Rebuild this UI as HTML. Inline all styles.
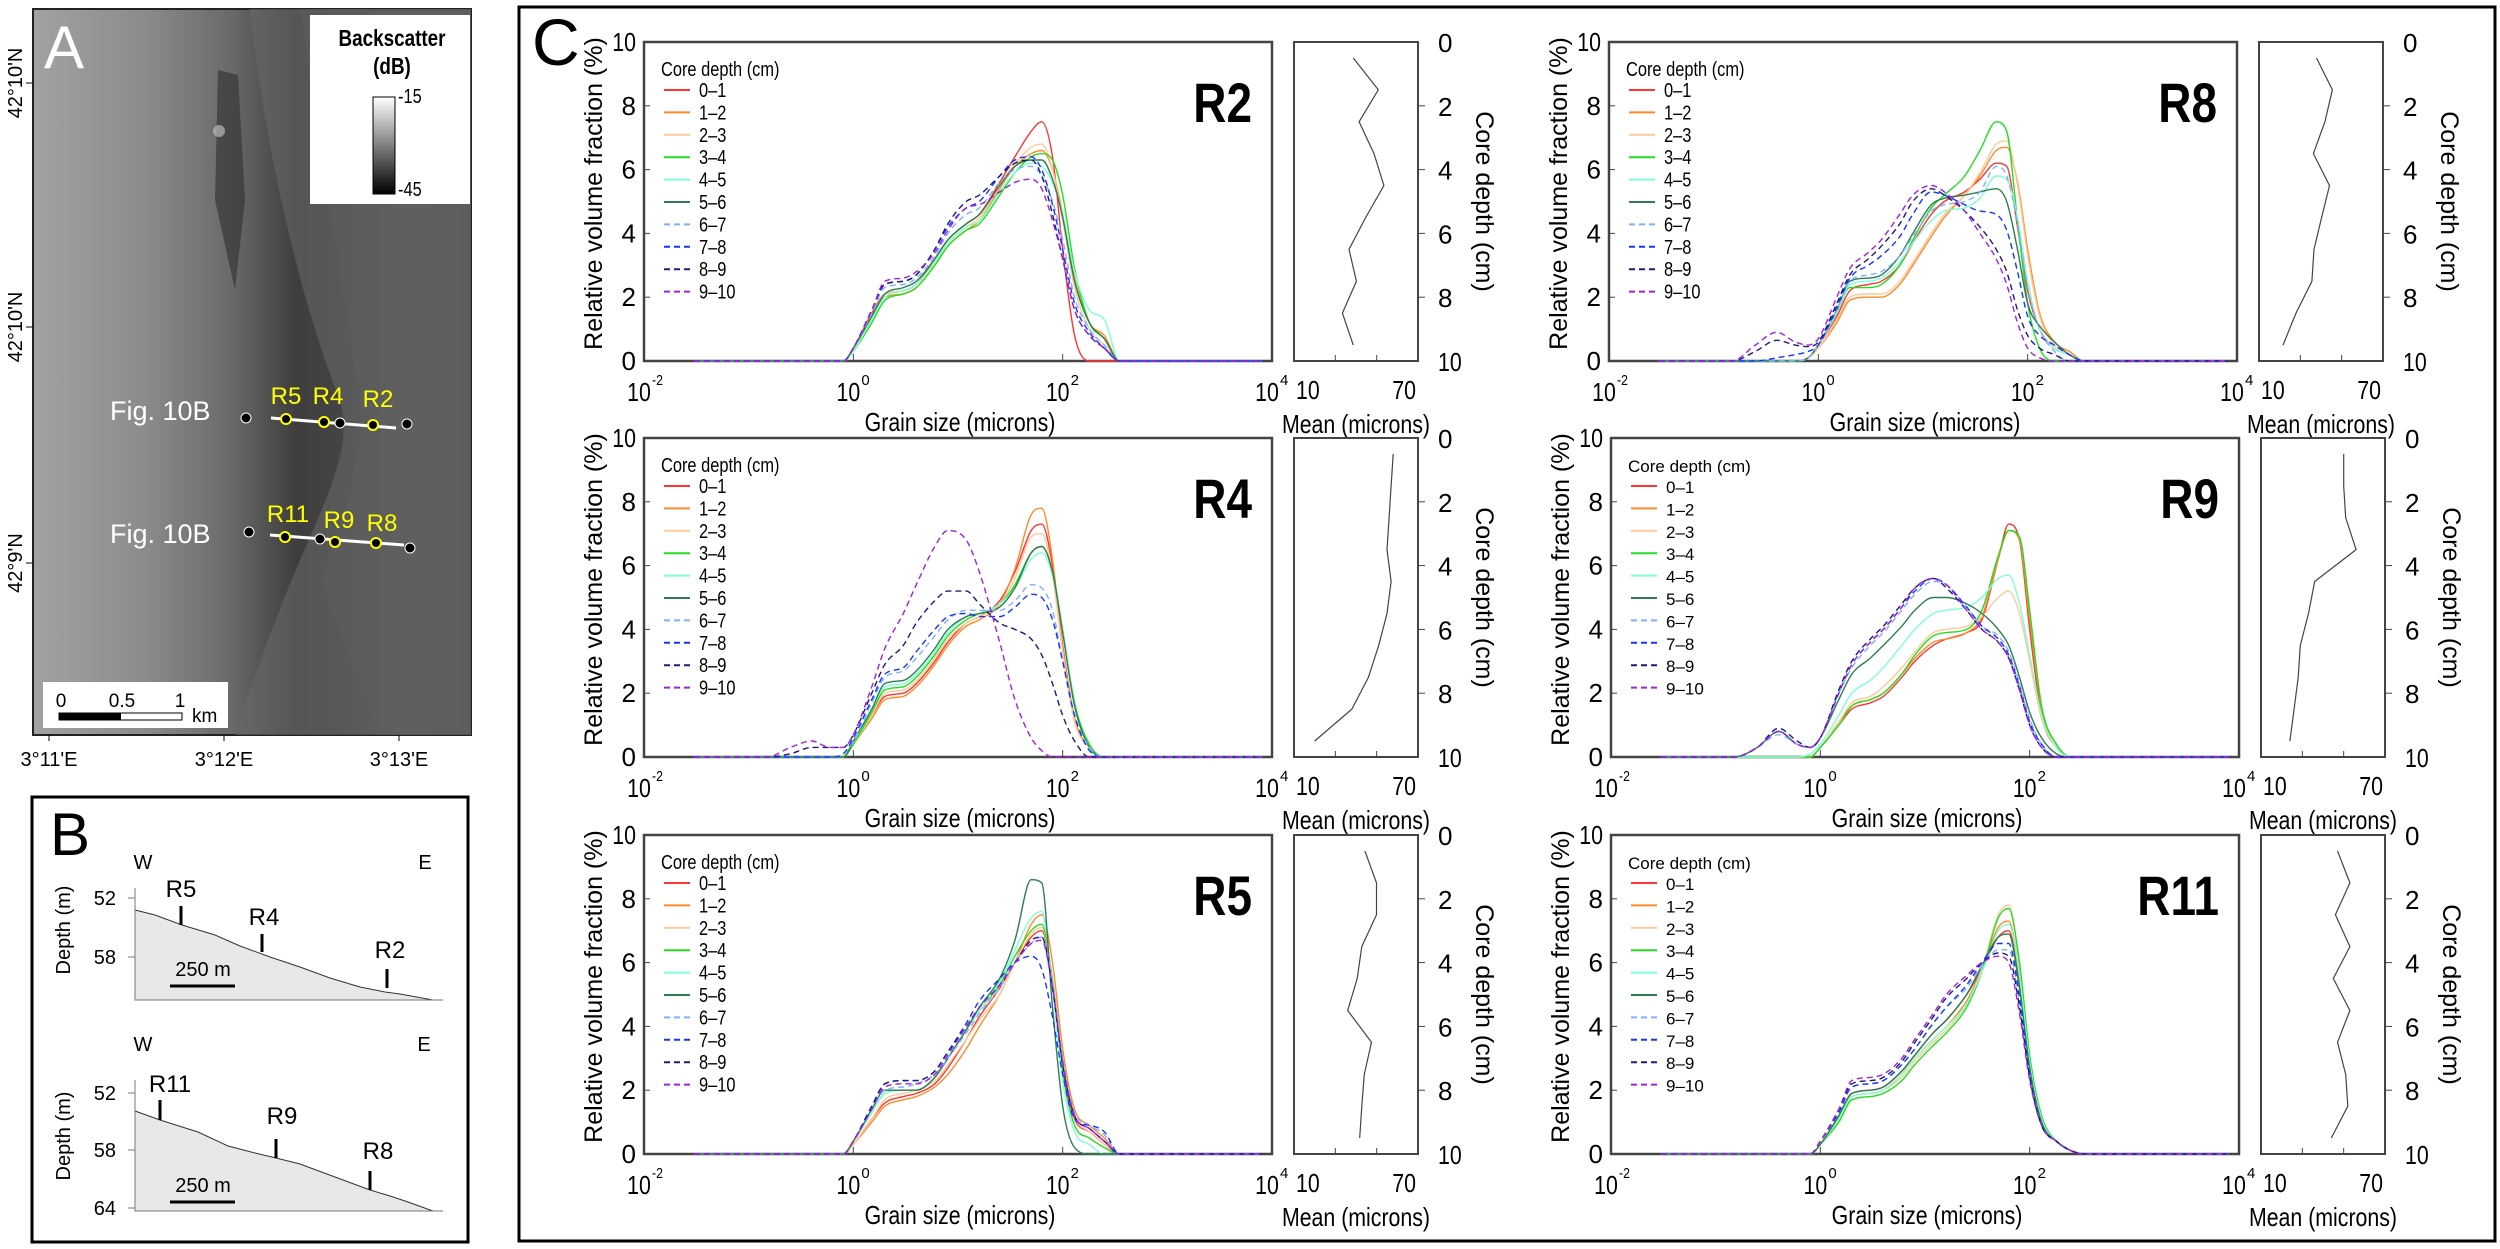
<!DOCTYPE html>
<html><head><meta charset="utf-8">
<style>
html,body{margin:0;padding:0;background:#fff;}
svg{display:block;font-family:"Liberation Sans",sans-serif;}
.nar{font-family:"Liberation Sans Narrow","Liberation Sans",sans-serif;}
</style></head>
<body>
<svg id="fig" width="2500" height="1249" viewBox="0 0 2500 1249" xmlns="http://www.w3.org/2000/svg">
<defs>
<linearGradient id="mapgrad" x1="0" x2="1" y1="0" y2="0">
<stop offset="0" stop-color="#a2a2a2"/><stop offset="0.25" stop-color="#8c8c8c"/>
<stop offset="0.45" stop-color="#6a6a6a"/><stop offset="0.6" stop-color="#3e3e3e"/>
<stop offset="0.72" stop-color="#454545"/><stop offset="0.85" stop-color="#585858"/>
<stop offset="1" stop-color="#4e4e4e"/></linearGradient>
<linearGradient id="cbar" x1="0" x2="0" y1="0" y2="1"><stop offset="0" stop-color="#fff"/><stop offset="1" stop-color="#000"/></linearGradient>
</defs>

<g>
<rect x="33" y="9" width="438" height="726" fill="url(#mapgrad)" stroke="#222" stroke-width="2"/>
<path d="M250,9 C265,150 300,300 340,400 C350,440 340,470 300,560 C270,630 250,690 235,735 L471,735 L471,9 Z" fill="#6a6a6a" opacity="0.55"/>
<path d="M300,9 C320,150 345,300 360,400 C365,450 350,500 320,580 L380,735 L471,735 L471,9 Z" fill="#5e5e5e" opacity="0.5"/>
<path d="M218,70 L238,75 L245,200 L235,290 L215,200 Z" fill="#2e2e2e" opacity="0.6"/>
<circle cx="219" cy="131" r="6" fill="#bbb" opacity="0.7"/>
<text x="44" y="68" font-size="60" fill="#fff">A</text>
<g>
<rect x="310" y="15" width="160" height="189" fill="#fff"/>
<text x="392" y="46" font-size="23" font-weight="bold" text-anchor="middle" class="nar">Backscatter</text>
<text x="392" y="74" font-size="23" font-weight="bold" text-anchor="middle" class="nar">(dB)</text>
<rect x="373" y="97" width="22" height="97" fill="url(#cbar)" stroke="#000" stroke-width="1"/>
<text x="398" y="103" font-size="20" class="nar">-15</text>
<text x="398" y="196" font-size="20" class="nar">-45</text>
</g>
<g>
<text x="110" y="420" font-size="27" fill="#fff">Fig. 10B</text>
<line x1="271" y1="418" x2="396" y2="428" stroke="#fff" stroke-width="3"/>
<circle cx="246" cy="418" r="5" fill="#000" stroke="#fff"/><circle cx="340" cy="423" r="5" fill="#000" stroke="#fff"/><circle cx="407" cy="424" r="5" fill="#000" stroke="#fff"/>
<circle cx="286" cy="419" r="5" fill="#000" stroke="#ff0" stroke-width="2"/><circle cx="324" cy="422" r="5" fill="#000" stroke="#ff0" stroke-width="2"/><circle cx="373" cy="425" r="5" fill="#000" stroke="#ff0" stroke-width="2"/>
<text x="286" y="404" font-size="24" fill="#ff0" text-anchor="middle">R5</text>
<text x="328" y="404" font-size="24" fill="#ff0" text-anchor="middle">R4</text>
<text x="378" y="407" font-size="24" fill="#ff0" text-anchor="middle">R2</text>
</g>
<g>
<text x="110" y="543" font-size="27" fill="#fff">Fig. 10B</text>
<line x1="270" y1="535" x2="404" y2="545" stroke="#fff" stroke-width="3"/>
<circle cx="249" cy="532" r="5" fill="#000" stroke="#fff"/><circle cx="320" cy="539" r="5" fill="#000" stroke="#fff"/><circle cx="410" cy="548" r="5" fill="#000" stroke="#fff"/>
<circle cx="285" cy="537" r="5" fill="#000" stroke="#ff0" stroke-width="2"/><circle cx="335" cy="542" r="5" fill="#000" stroke="#ff0" stroke-width="2"/><circle cx="376" cy="543" r="5" fill="#000" stroke="#ff0" stroke-width="2"/>
<text x="288" y="522" font-size="24" fill="#ff0" text-anchor="middle">R11</text>
<text x="339" y="528" font-size="24" fill="#ff0" text-anchor="middle">R9</text>
<text x="382" y="531" font-size="24" fill="#ff0" text-anchor="middle">R8</text>
</g>
<g>
<rect x="43" y="682" width="185" height="46" fill="#fff"/>
<text x="61" y="707" font-size="19" text-anchor="middle">0</text>
<text x="122" y="707" font-size="19" text-anchor="middle">0.5</text>
<text x="180" y="707" font-size="19" text-anchor="middle">1</text>
<text x="192" y="722" font-size="19">km</text>
<rect x="59" y="713" width="123" height="7" fill="#fff" stroke="#000" stroke-width="1"/>
<rect x="59" y="713" width="62" height="7" fill="#000"/>
</g>
<g font-size="20">
<line x1="26" y1="83" x2="33" y2="83" stroke="#000"/><line x1="26" y1="327" x2="33" y2="327" stroke="#000"/><line x1="26" y1="563" x2="33" y2="563" stroke="#000"/>
<text transform="translate(22,83) rotate(-90)" text-anchor="middle">42°10'N</text>
<text transform="translate(22,327) rotate(-90)" text-anchor="middle">42°10'N</text>
<text transform="translate(22,563) rotate(-90)" text-anchor="middle">42°9'N</text>
<line x1="49" y1="735" x2="49" y2="741" stroke="#000"/><line x1="224" y1="735" x2="224" y2="741" stroke="#000"/><line x1="399" y1="735" x2="399" y2="741" stroke="#000"/>
<text x="49" y="766" text-anchor="middle">3°11'E</text>
<text x="224" y="766" text-anchor="middle">3°12'E</text>
<text x="399" y="766" text-anchor="middle">3°13'E</text>
</g>
</g>

<g>
<rect x="32" y="797" width="436" height="445" fill="none" stroke="#000" stroke-width="3"/>
<text x="50" y="855" font-size="60">B</text>
<g font-size="20">
<text x="143" y="869" text-anchor="middle">W</text><text x="425" y="869" text-anchor="middle">E</text>
<path d="M135,910 L155,915 L182,925 L215,935 L240,946 L270,957 L300,967 L330,978 L360,987 L385,992 L400,994 L433,1000 L135,1000 Z" fill="#e8e8e8" stroke="none"/>
<polyline points="135,910 155,915 182,925 215,935 240,946 270,957 300,967 330,978 360,987 385,992 400,994 433,1000" fill="none" stroke="#333" stroke-width="1"/>
<polyline points="135,888 135,1000 443,1000" fill="none" stroke="#777" stroke-width="1"/>
<line x1="128" y1="898" x2="135" y2="898" stroke="#777"/><line x1="128" y1="957" x2="135" y2="957" stroke="#777"/>
<text x="116" y="905" text-anchor="end">52</text><text x="116" y="964" text-anchor="end">58</text>
<text transform="translate(70,930) rotate(-90)" text-anchor="middle">Depth (m)</text>
<line x1="181" y1="906" x2="181" y2="925" stroke="#000" stroke-width="3"/><text x="181" y="897" font-size="24" text-anchor="middle">R5</text>
<line x1="262" y1="934" x2="262" y2="952" stroke="#000" stroke-width="3"/><text x="264" y="925" font-size="24" text-anchor="middle">R4</text>
<line x1="387" y1="969" x2="387" y2="988" stroke="#000" stroke-width="3"/><text x="390" y="958" font-size="24" text-anchor="middle">R2</text>
<text x="203" y="976" text-anchor="middle">250 m</text>
<line x1="170" y1="986" x2="235" y2="986" stroke="#000" stroke-width="3"/>
</g>
<g font-size="20">
<text x="143" y="1051" text-anchor="middle">W</text><text x="424" y="1051" text-anchor="middle">E</text>
<path d="M135,1111 L160,1120 L198,1132 L228,1146 L255,1153 L276,1158 L300,1164 L335,1177 L370,1190 L390,1196 L405,1201 L433,1211 L135,1211 Z" fill="#e8e8e8"/>
<polyline points="135,1111 160,1120 198,1132 228,1146 255,1153 276,1158 300,1164 335,1177 370,1190 390,1196 405,1201 433,1211" fill="none" stroke="#333" stroke-width="1"/>
<polyline points="135,1080 135,1211 443,1211" fill="none" stroke="#777" stroke-width="1"/>
<line x1="128" y1="1093" x2="135" y2="1093" stroke="#777"/><line x1="128" y1="1150" x2="135" y2="1150" stroke="#777"/><line x1="128" y1="1208" x2="135" y2="1208" stroke="#777"/>
<text x="116" y="1100" text-anchor="end">52</text><text x="116" y="1157" text-anchor="end">58</text><text x="116" y="1215" text-anchor="end">64</text>
<text transform="translate(70,1136) rotate(-90)" text-anchor="middle">Depth (m)</text>
<line x1="160" y1="1100" x2="160" y2="1120" stroke="#000" stroke-width="3"/><text x="170" y="1092" font-size="24" text-anchor="middle">R11</text>
<line x1="276" y1="1139" x2="276" y2="1158" stroke="#000" stroke-width="3"/><text x="282" y="1124" font-size="24" text-anchor="middle">R9</text>
<line x1="370" y1="1171" x2="370" y2="1190" stroke="#000" stroke-width="3"/><text x="378" y="1159" font-size="24" text-anchor="middle">R8</text>
<text x="203" y="1192" text-anchor="middle">250 m</text>
<line x1="170" y1="1202" x2="235" y2="1202" stroke="#000" stroke-width="3"/>
</g>
</g>

<g>
<rect x="519" y="7" width="1976" height="1234" fill="none" stroke="#000" stroke-width="3"/>
<text x="532" y="65" font-size="66">C</text>
<g id="charts"></g>
</g>
</svg>
<script>
const grainSizes = [0.03,0.15,0.25,0.4,0.6,0.8,1,1.5,2,3,4,6,8,12,16,25,35,50,63,80,100,130,180,250,350,8000];
const depthLabels = ["0\u20131","1\u20132","2\u20133","3\u20134","4\u20135","5\u20136","6\u20137","7\u20138","8\u20139","9\u201310"];
const meanDepths = [0.5,1.5,2.5,3.5,4.5,5.5,6.5,7.5,8.5,9.5];
const yTicks = [0,2,4,6,8,10];
const depthTicks = [0,2,4,6,8,10];
const xTickExp = [-2,0,2,4];

const r2Series = [
[0,0,0,0,0,0,0.4,1.5,2.1,2.2,2.4,3.2,3.8,4.3,4.6,5.6,6.4,7.2,7.5,6.4,3.5,0.8,0,0,0,0],
[0,0,0,0,0,0,0.3,1.3,2.0,2.1,2.3,3.0,3.6,4.1,4.4,5.4,6.1,6.5,6.6,6.0,4.6,2.6,1.2,0.8,0,0],
[0,0,0,0,0,0,0.3,1.4,2.1,2.2,2.4,3.1,3.7,4.2,4.5,5.5,6.2,6.7,6.8,6.0,4.4,2.3,1.0,0.5,0,0],
[0,0,0,0,0,0,0.3,1.2,1.9,2.1,2.3,3.0,3.6,4.1,4.3,5.2,5.9,6.4,6.5,6.3,5.2,2.9,1.2,0.7,0,0],
[0,0,0,0,0,0,0.3,1.3,2.0,2.2,2.4,3.1,3.7,4.2,4.4,5.3,5.9,6.2,6.1,5.6,4.6,2.8,1.6,1.3,0,0],
[0,0,0,0,0,0,0.4,1.4,2.1,2.3,2.5,3.2,3.8,4.3,4.6,5.5,6.1,6.3,6.3,5.7,4.5,2.5,1.2,0.7,0,0],
[0,0,0,0,0,0,0.4,1.5,2.3,2.4,2.6,3.3,4.0,4.6,4.8,5.6,6.0,6.1,5.8,5.0,3.8,2.0,1.0,0.5,0,0],
[0,0,0,0,0,0,0.4,1.6,2.4,2.5,2.7,3.5,4.2,4.8,5.0,5.8,6.3,6.4,6.0,4.9,3.5,1.8,0.9,0.4,0,0],
[0,0,0,0,0,0,0.4,1.6,2.4,2.5,2.7,3.5,4.3,5.0,5.2,5.8,6.2,6.3,5.8,4.6,3.2,1.6,0.8,0.4,0,0],
[0,0,0,0,0,0,0.4,1.6,2.5,2.6,2.8,3.4,4.1,4.8,4.9,5.3,5.6,5.7,5.4,4.4,3.2,1.6,0.8,0.4,0,0]];
const r2Mean = [38.7,50.8,41.5,48.7,53.5,44.7,36.6,40.2,33.4,38.7];

const r8Series = [
[0,0,0,0,0,0.1,0.5,1.4,2.2,2.4,2.5,3.0,3.7,4.6,5.0,5.3,5.7,6.2,6.1,4.2,2.2,1.0,0.4,0.2,0,0],
[0,0,0,0,0,0.1,0.4,1.2,1.9,2.0,2.0,2.4,3.0,3.9,4.5,5.2,5.8,6.6,6.7,5.6,3.5,1.5,0.6,0.3,0,0],
[0,0,0,0,0,0.1,0.4,1.3,2.0,2.1,2.1,2.5,3.1,4.0,4.6,5.2,5.9,6.8,6.9,5.5,3.3,1.4,0.5,0.2,0,0],
[0,0,0,0,0,0.1,0.5,1.5,2.3,2.3,2.4,3.0,3.8,4.8,5.2,5.8,6.6,7.5,7.2,4.4,1.8,0.4,0,0,0,0],
[0,0,0,0,0,0.1,0.5,1.5,2.4,2.5,2.6,3.1,3.7,4.4,4.7,4.8,5.1,5.8,5.7,4.5,2.5,1.0,0.4,0.2,0,0],
[0,0,0,0,0,0.1,0.5,1.6,2.5,2.6,2.7,3.3,4.0,4.9,5.1,5.2,5.3,5.4,5.0,3.5,1.8,1.1,0.6,0.2,0,0],
[0,0,0,0,0,0.1,0.5,1.6,2.5,2.7,2.8,3.3,3.9,4.7,4.9,5.0,5.3,6.1,5.8,4.3,2.3,1.0,0.3,0,0,0],
[0,0,0,0.1,0.2,0.3,0.5,1.7,2.6,3.0,3.3,3.9,4.6,5.3,5.2,4.9,4.7,4.6,4.1,2.8,1.4,0.8,0.5,0.2,0,0],
[0,0,0.3,0.65,0.5,0.45,0.6,1.8,2.7,3.2,3.6,4.3,5.0,5.4,5.2,4.7,4.2,3.5,2.8,1.6,0.8,0.4,0.2,0,0,0],
[0,0,0.5,0.9,0.6,0.5,0.7,2.0,2.9,3.4,3.8,4.6,5.2,5.5,5.3,4.7,4.0,3.2,2.4,1.2,0.4,0.1,0,0,0,0]];
const r8Mean = [37.8,45.5,41.9,36.3,44.1,40.3,36.6,35.6,27.9,21.6];

const r4Series = [
[0,0,0,0,0,0,0.4,1.3,1.9,2.0,2.3,3.0,3.6,4.2,4.4,4.9,5.8,7.1,7.3,6.0,3.5,1.2,0.3,0,0,0],
[0,0,0,0,0,0,0.4,1.2,1.8,1.9,2.2,2.9,3.5,4.1,4.3,4.8,5.9,7.6,7.8,6.2,3.4,1.2,0.3,0,0,0],
[0,0,0,0,0,0,0.4,1.3,2.0,2.1,2.4,3.1,3.7,4.2,4.4,4.8,5.6,6.9,7.0,5.7,3.3,1.1,0.3,0,0,0],
[0,0,0,0,0,0,0.4,1.4,2.1,2.2,2.5,3.2,3.8,4.3,4.5,4.8,5.4,6.4,6.6,5.8,4.0,1.7,0.4,0,0,0],
[0,0,0,0,0,0,0.5,1.5,2.2,2.3,2.6,3.3,3.9,4.4,4.5,4.8,5.3,6.2,6.4,5.7,4.0,1.6,0.3,0,0,0],
[0,0,0,0,0,0,0.5,1.5,2.3,2.4,2.7,3.4,4.0,4.4,4.5,4.7,5.3,6.4,6.6,5.8,3.9,1.6,0.3,0,0,0],
[0,0,0,0,0,0.1,0.5,1.7,2.5,2.7,3.1,3.8,4.3,4.6,4.6,4.6,4.9,5.4,5.3,4.6,3.0,1.3,0.3,0,0,0],
[0,0,0,0,0,0.1,0.6,1.8,2.6,2.8,3.3,4.0,4.4,4.5,4.4,4.4,4.7,5.1,5.0,4.3,3.0,1.3,0.2,0,0,0],
[0,0,0.1,0.3,0.3,0.3,0.7,2.0,2.9,3.5,4.2,4.9,5.2,5.2,4.8,4.2,4.0,3.7,3.2,2.3,1.3,0.5,0,0,0,0],
[0,0,0.3,0.5,0.3,0.3,0.7,2.2,3.4,4.5,5.4,6.6,7.1,6.8,5.8,3.6,1.8,0.6,0.2,0,0,0,0,0,0,0]];
const r4Mean = [58,57,56,55,57,55,51,46,38,20];

const r9Series = [
[0,0,0,0,0,0,0.3,1.0,1.5,1.7,1.9,2.5,3.0,3.5,3.7,3.9,4.3,6.2,7.3,6.8,4.0,1.3,0.3,0,0,0],
[0,0,0,0,0,0,0.3,1.1,1.6,1.8,2.0,2.6,3.1,3.6,3.7,3.9,4.4,6.2,7.1,6.8,4.3,1.5,0.4,0,0,0],
[0,0,0,0,0,0,0.3,1.1,1.7,1.9,2.2,2.8,3.3,3.9,4.0,4.1,4.4,5.0,5.2,4.5,3.0,1.2,0.3,0,0,0],
[0,0,0,0,0,0,0.3,1.0,1.6,1.8,2.0,2.6,3.2,3.8,3.9,4.0,4.6,6.3,7.1,6.9,4.6,1.6,0.4,0,0,0],
[0,0,0,0,0,0.1,0.4,1.3,2.0,2.4,2.8,3.5,4.0,4.5,4.6,4.7,5.0,5.6,5.7,4.8,3.2,1.3,0.3,0,0,0],
[0,0,0.3,0.8,0.4,0.3,0.6,1.8,2.6,3.1,3.5,4.1,4.6,5.0,5.0,4.8,4.5,4.0,3.5,2.5,1.4,0.6,0.1,0,0,0],
[0,0,0.3,0.7,0.4,0.3,0.6,2.0,2.8,3.5,3.9,4.6,5.1,5.5,5.4,4.7,4.1,3.8,3.3,2.3,1.2,0.4,0,0,0,0],
[0,0,0.3,0.8,0.4,0.3,0.6,2.0,2.9,3.6,4.0,4.7,5.2,5.6,5.4,4.7,4.1,3.7,3.2,2.2,1.1,0.4,0,0,0,0],
[0,0,0.3,0.9,0.5,0.3,0.6,2.1,3.0,3.7,4.1,4.8,5.3,5.6,5.3,4.6,4.0,3.6,3.1,2.1,1.0,0.3,0,0,0,0],
[0,0,0.3,0.8,0.4,0.3,0.6,2.0,2.9,3.6,4.0,4.7,5.3,5.6,5.4,4.6,4.0,3.6,3.1,2.1,1.0,0.3,0,0,0,0]];
const r9Mean = [50,50,51,56,36,33,29,28,26,24];

const r5Series = [
[0,0,0,0,0,0,0.3,1.1,1.6,1.8,1.9,2.2,2.7,3.6,4.3,5.2,6.0,6.8,7.0,5.4,2.8,1.1,0.7,0.3,0,0],
[0,0,0,0,0,0,0.3,1.0,1.5,1.7,1.8,2.1,2.5,3.3,4.0,5.0,6.0,7.2,7.5,6.0,3.3,1.4,0.9,0.5,0,0],
[0,0,0,0,0,0,0.3,1.1,1.7,1.9,2.0,2.3,2.8,3.6,4.2,5.0,6.0,6.9,7.1,5.5,3.0,1.2,0.7,0.3,0,0],
[0,0,0,0,0,0,0.4,1.3,1.9,2.0,2.0,2.4,3.0,3.9,4.5,5.3,6.2,7.0,7.2,5.4,2.6,0.9,0.5,0.2,0,0],
[0,0,0,0,0,0,0.4,1.3,1.9,2.0,2.0,2.4,3.0,3.9,4.5,5.4,6.4,7.4,7.6,5.2,2.3,0.7,0.3,0,0,0],
[0,0,0,0,0,0,0.4,1.4,2.0,2.0,2.0,2.4,3.0,3.9,4.6,5.5,6.7,8.6,8.5,4.6,1.5,0.2,0,0,0,0],
[0,0,0,0,0,0,0.4,1.4,2.0,2.1,2.2,2.5,3.0,3.8,4.4,5.2,6.0,6.6,6.8,5.4,3.0,1.3,0.9,0.6,0,0],
[0,0,0,0,0,0,0.4,1.5,2.2,2.3,2.3,2.6,3.2,4.1,4.8,5.5,6.0,6.2,5.8,4.3,2.5,1.1,0.9,0.7,0,0],
[0,0,0,0,0,0,0.4,1.5,2.2,2.3,2.3,2.6,3.2,4.0,4.6,5.3,6.0,6.7,6.8,5.2,2.8,1.2,0.8,0.4,0,0],
[0,0,0,0,0,0,0.4,1.4,2.1,2.2,2.2,2.5,3.1,4.0,4.6,5.3,6.0,6.6,6.7,5.2,2.9,1.2,0.8,0.4,0,0]];
const r5Mean = [44.3,49.9,49.9,42.8,40.6,36.0,47.5,44.0,42.8,41.8];

const r11Series = [
[0,0,0,0,0,0,0.3,1.2,1.9,2.0,2.1,2.6,3.1,3.8,4.2,5.0,5.8,6.8,7.0,5.3,2.7,1.0,0.4,0.1,0,0],
[0,0,0,0,0,0,0.3,1.1,1.8,1.9,2.0,2.5,3.0,3.6,4.0,4.8,5.8,7.1,7.3,5.6,2.9,1.1,0.4,0.1,0,0],
[0,0,0,0,0,0,0.3,1.1,1.8,1.9,2.0,2.4,2.9,3.5,3.9,4.7,5.8,7.5,7.8,5.9,3.0,1.1,0.4,0.1,0,0],
[0,0,0,0,0,0,0.3,1.0,1.7,1.8,1.9,2.3,2.8,3.4,3.8,4.6,5.7,7.4,7.7,6.0,3.1,1.2,0.4,0.1,0,0],
[0,0,0,0,0,0,0.3,1.1,1.8,1.9,2.0,2.5,3.0,3.6,4.0,4.7,5.7,7.0,7.2,5.6,2.9,1.1,0.4,0.1,0,0],
[0,0,0,0,0,0,0.3,1.2,1.9,2.0,2.1,2.6,3.1,3.8,4.2,5.0,5.9,6.8,6.9,5.2,2.7,1.0,0.4,0.1,0,0],
[0,0,0,0,0,0,0.4,1.3,2.1,2.2,2.3,2.8,3.3,4.1,4.6,5.2,5.9,6.4,6.4,4.8,2.5,0.9,0.4,0.1,0,0],
[0,0,0,0,0,0,0.4,1.3,2.1,2.2,2.3,2.8,3.3,4.1,4.6,5.3,6.0,6.6,6.6,4.9,2.5,0.9,0.4,0.1,0,0],
[0,0,0,0,0,0,0.4,1.4,2.2,2.3,2.4,2.9,3.5,4.3,4.9,5.5,6.0,6.3,6.2,4.6,2.4,0.9,0.4,0.1,0,0],
[0,0,0,0,0,0,0.4,1.4,2.3,2.4,2.5,3.0,3.6,4.4,5.0,5.6,6.0,6.2,6.0,4.4,2.3,0.9,0.4,0.1,0,0]];
const r11Mean = [47,53,46,53,45,53,47,51,52,44];

const colors = ["#ff3434","#ff8a2a","#ffc99a","#22dd22","#7fffd4","#2e7d50","#7fb0ff","#1535ff","#1c1c7a","#a020e0"];
const NS = "http://www.w3.org/2000/svg";
const root = document.getElementById("charts");

function mk(tag, attrs, parent){
  const e = document.createElementNS(NS, tag);
  for (const k in attrs) e.setAttribute(k, attrs[k]);
  (parent||root).appendChild(e);
  return e;
}
function monoPath(pts){
  const n = pts.length;
  if (n < 2) return "";
  const dx=[],m=[],t=[];
  for (let i=0;i<n-1;i++){dx.push(pts[i+1][0]-pts[i][0]); m.push((pts[i+1][1]-pts[i][1])/dx[i]);}
  t[0]=m[0]; t[n-1]=m[n-2];
  for (let i=1;i<n-1;i++){ t[i] = (m[i-1]*m[i]<=0)?0:(m[i-1]+m[i])/2; }
  for (let i=0;i<n-1;i++){
    if (m[i]===0){t[i]=0;t[i+1]=0;continue;}
    const a=t[i]/m[i], b=t[i+1]/m[i], s=a*a+b*b;
    if (s>9){const k=3/Math.sqrt(s); t[i]=k*a*m[i]; t[i+1]=k*b*m[i];}
  }
  let d = "M"+pts[0][0].toFixed(1)+","+pts[0][1].toFixed(1);
  for (let i=0;i<n-1;i++){
    const h=dx[i];
    d += " C"+(pts[i][0]+h/3).toFixed(1)+","+(pts[i][1]+t[i]*h/3).toFixed(1)+" "+
         (pts[i+1][0]-h/3).toFixed(1)+","+(pts[i+1][1]-t[i+1]*h/3).toFixed(1)+" "+
         pts[i+1][0].toFixed(1)+","+pts[i+1][1].toFixed(1);
  }
  return d;
}

function panel(name, X, Y, series, mean, legendNarrow){
  const W = 628, H = 319;
  const xs = v => X + (Math.log10(v) + 2) / 6 * W;
  const ys = v => Y + H - v / 10 * H;
  const g = mk("g", {});
  
  
  const frame = mk("rect", {x:X, y:Y, width:W, height:H, fill:"#fff", stroke:"#444", "stroke-width":2.5}, g);
  
  
  yTicks.forEach(v => {
    const t = mk("text", {x:X-8, y:ys(v)+9, "font-size":26, "text-anchor":"end", class:"nar"}, g);
    t.textContent = v;
    
    
    if (v>0 && v<10) mk("line", {x1:X, x2:X+6, y1:ys(v), y2:ys(v), stroke:"#444"}, g);
  });
  xTickExp.forEach(e => {
    const px = xs(Math.pow(10,e));
    if (e>-2 && e<4) mk("line", {x1:px, x2:px, y1:Y+H, y2:Y+H-7, stroke:"#444"}, g);
    const t = mk("text", {x:px-5, y:Y+H+40, "font-size":26, "text-anchor":"middle", class:"nar"}, g);
    t.textContent = "10";
    
    
    const s = mk("text", {x:px+8, y:Y+H+24, "font-size":15, class:"nar"}, g);
    s.textContent = e;
  });
  const xl = mk("text", {x:X+W/2+2, y:Y+H+70, "font-size":26, "text-anchor":"middle", class:"nar"}, g);
  xl.textContent = "Grain size (microns)";
  
  
  const yl = mk("text", {transform:"translate("+(X-42)+","+(Y+H/2-8)+") rotate(-90)", "font-size":25, "text-anchor":"middle"}, g);
  yl.textContent = "Relative volume fraction  (%)";
  
  
  series.forEach((vals, i) => {
    const pts = vals.map((v, j) => [xs(grainSizes[j]), ys(v)]);
    const p = mk("path", {d:monoPath(pts), fill:"none", stroke:colors[i], "stroke-width":1.4}, g);
    if (i>=6) p.setAttribute("stroke-dasharray","6,4");
    
    
  });
  const lab = mk("text", {x:X+W-20, y:Y+80, "font-size":56, "font-weight":"bold", "text-anchor":"end", class:"nar"}, g);
  lab.textContent = name;
  
  
  const lg = mk("g", {}, g);
  
  
  const fs = legendNarrow ? 20 : 17;
  const lt = mk("text", {x:X+17, y:Y+34, "font-size":fs, class: legendNarrow?"nar":""}, lg);
  lt.textContent = "Core depth (cm)";
  depthLabels.forEach((d, i) => {
    const yy = Y + 48 + i*22.4;
    const ln = mk("line", {x1:X+20, x2:X+46, y1:yy, y2:yy, stroke:colors[i], "stroke-width":2}, lg);
    if (i>=6) ln.setAttribute("stroke-dasharray","6,4");
    
    
    const t = mk("text", {x:X+55, y:yy+7, "font-size":fs, class: legendNarrow?"nar":""}, lg);
    t.textContent = d;
    
    
  });
  const MX = X + 650, MW = 124;
  const mx = v => MX + (v-10)/60*MW;
  const my = d => Y + d/10*H;
  const mf = mk("rect", {x:MX, y:Y, width:MW, height:H, fill:"#fff", stroke:"#444", "stroke-width":2}, g);
  
  
  [30,50].forEach(v => mk("line", {x1:mx(v), x2:mx(v), y1:Y+H, y2:Y+H-6, stroke:"#444"}, g));
  depthTicks.forEach(d => {
    if (d>0 && d<10) mk("line", {x1:MX+MW, x2:MX+MW+7, y1:my(d), y2:my(d), stroke:"#444"}, g);
    const t = mk("text", {x:MX+MW+20, y:my(d)+10, "font-size":26, class:"nar"}, g);
    t.textContent = d;
    
    
  });
  const a = mk("text", {x:MX+2, y:Y+H+38, "font-size":26, class:"nar"}, g); a.textContent = "10";
  const b = mk("text", {x:MX+MW-2, y:Y+H+38, "font-size":26, "text-anchor":"end", class:"nar"}, g); b.textContent = "70";
  const ml = mk("text", {x:MX+MW/2, y:Y+H+72, "font-size":26, "text-anchor":"middle", class:"nar"}, g);
  ml.textContent = "Mean (microns)";
  
  
  const dl = mk("text", {transform:"translate("+(MX+MW+58)+","+(Y+H/2)+") rotate(90)", "font-size":25, "text-anchor":"middle"}, g);
  dl.textContent = "Core depth (cm)";
  
  
  const mp = mk("polyline", {points: mean.map((v,i)=>mx(v).toFixed(1)+","+my(meanDepths[i]).toFixed(1)).join(" "), fill:"none", stroke:"#444", "stroke-width":1.2}, g);
  
  
}

panel("R2", 644, 42, r2Series, r2Mean, true);
panel("R4", 644, 438, r4Series, r4Mean, true);
panel("R5", 644, 835, r5Series, r5Mean, true);
panel("R8", 1609, 42, r8Series, r8Mean, true);
panel("R9", 1611, 438, r9Series, r9Mean, false);
panel("R11", 1611, 835, r11Series, r11Mean, false);

// condense "narrow" text (narrow font not installed)
document.querySelectorAll("text.nar").forEach(t => {
  const L = t.getComputedTextLength();
  if (L > 0 && t.textContent.length > 1) {
    t.setAttribute("textLength", (L*0.82).toFixed(1));
    t.setAttribute("lengthAdjust", "spacingAndGlyphs");
  }
});
</script>
</body></html>
